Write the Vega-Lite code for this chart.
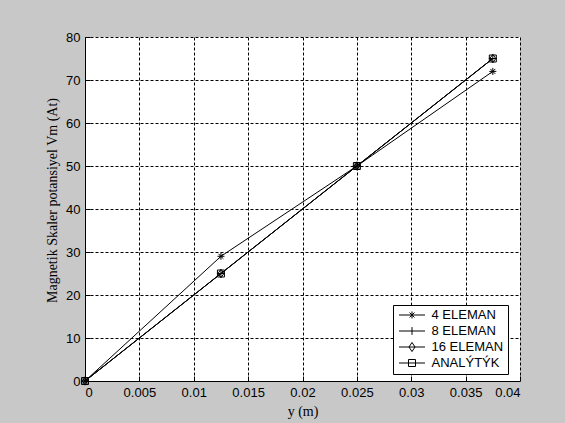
{
  "$schema": "https://vega.github.io/schema/vega-lite/v6.json",
  "width": 435,
  "height": 344,
  "autosize": {"type": "none"},
  "padding": {"left": 85, "top": 37, "right": 45, "bottom": 42},
  "background": "#c8c8c8",
  "data": {
    "values": [
      {"series": "4 ELEMAN", "x": 0, "v": 0},
      {"series": "4 ELEMAN", "x": 0.0125, "v": 29},
      {"series": "4 ELEMAN", "x": 0.025, "v": 50},
      {"series": "4 ELEMAN", "x": 0.0375, "v": 72},
      {"series": "8 ELEMAN", "x": 0, "v": 0},
      {"series": "8 ELEMAN", "x": 0.0125, "v": 25},
      {"series": "8 ELEMAN", "x": 0.025, "v": 50},
      {"series": "8 ELEMAN", "x": 0.0375, "v": 75},
      {"series": "16 ELEMAN", "x": 0, "v": 0},
      {"series": "16 ELEMAN", "x": 0.0125, "v": 25},
      {"series": "16 ELEMAN", "x": 0.025, "v": 50},
      {"series": "16 ELEMAN", "x": 0.0375, "v": 75},
      {"series": "ANALÝTÝK", "x": 0, "v": 0},
      {"series": "ANALÝTÝK", "x": 0.0125, "v": 25},
      {"series": "ANALÝTÝK", "x": 0.025, "v": 50},
      {"series": "ANALÝTÝK", "x": 0.0375, "v": 75}
    ]
  },
  "encoding": {
    "x": {
      "field": "x",
      "type": "quantitative",
      "scale": {"domain": [0, 0.04], "nice": false, "zero": false},
      "axis": {
        "title": "y (m)",
        "values": [0, 0.005, 0.01, 0.015, 0.02, 0.025, 0.03, 0.035, 0.04],
        "format": "~g",
        "labelPadding": 10,
        "titlePadding": 5
      }
    },
    "y": {
      "field": "v",
      "type": "quantitative",
      "scale": {"domain": [0, 80], "nice": false},
      "axis": {
        "title": "Magnetik Skaler potansiyel Vm (At)",
        "values": [0, 10, 20, 30, 40, 50, 60, 70, 80],
        "labelPadding": 10,
        "titlePadding": 6,
        "titleY": 163
      }
    }
  },
  "layer": [
    {
      "mark": {"type": "line", "color": "black", "strokeWidth": 1},
      "encoding": {"detail": {"field": "series", "type": "nominal"}}
    },
    {
      "mark": {"type": "point", "color": "black", "strokeWidth": 1, "size": 49, "filled": false, "opacity": 1},
      "encoding": {
        "shape": {
          "field": "series",
          "type": "nominal",
          "scale": {
            "domain": ["4 ELEMAN", "8 ELEMAN", "16 ELEMAN", "ANALÝTÝK"],
            "range": [
              "M-1,0L1,0M0,-1L0,1M-0.7,-0.7L0.7,0.7M-0.7,0.7L0.7,-0.7",
              "M-1.15,0L1.15,0M0,-1.15L0,1.15",
              "M0,-1.2L0.85,0L0,1.2L-0.85,0Z",
              "M-1,-1L1,-1L1,1L-1,1Z"
            ]
          },
          "legend": null
        }
      }
    },
    {
      "transform": [{"filter": "datum.x < 0"}],
      "mark": {"type": "point", "color": "black", "strokeWidth": 1, "size": 676, "filled": false, "opacity": 1},
      "encoding": {
        "shape": {
          "field": "series",
          "type": "nominal",
          "scale": {
            "domain": ["4 ELEMAN", "8 ELEMAN", "16 ELEMAN", "ANALÝTÝK"],
            "range": [
              "M-1,0L1,0M0,-0.27L0,0.27M-0.19,-0.19L0.19,0.19M-0.19,0.19L0.19,-0.19",
              "M-1,0L1,0M0,-0.3L0,0.3",
              "M-1,0L1,0M0,-0.35L0.23,0L0,0.35L-0.23,0Z",
              "M-1,0L1,0M-0.27,-0.27L0.27,-0.27L0.27,0.27L-0.27,0.27Z"
            ]
          },
          "legend": {
            "title": null,
            "orient": "none",
            "legendX": 308,
            "legendY": 268,
            "padding": 4,
            "strokeColor": "black",
            "fillColor": "white",
            "symbolSize": 676,
            "symbolStrokeWidth": 1,
            "symbolStrokeColor": "black",
            "symbolFillColor": "transparent",
            "symbolOpacity": 1,
            "symbolOffset": 1.5,
            "clipHeight": 12,
            "labelFont": "Liberation Sans",
            "labelFontSize": 13,
            "labelColor": "black",
            "rowPadding": 3,
            "labelOffset": 6
          }
        }
      }
    }
  ],
  "resolve": {"scale": {"shape": "independent"}},
  "config": {
    "view": {"fill": "white", "stroke": null},
    "axis": {
      "domainColor": "black",
      "domainWidth": 1,
      "tickColor": "black",
      "tickSize": -5,
      "tickWidth": 1,
      "grid": true,
      "gridColor": "black",
      "gridDash": [3, 2],
      "gridWidth": 1,
      "gridOpacity": 1,
      "labelFont": "Liberation Sans",
      "labelFontSize": 13,
      "labelColor": "black",
      "titleFont": "Liberation Serif",
      "titleFontSize": 14,
      "titleFontWeight": "normal",
      "titleColor": "black"
    }
  }
}
